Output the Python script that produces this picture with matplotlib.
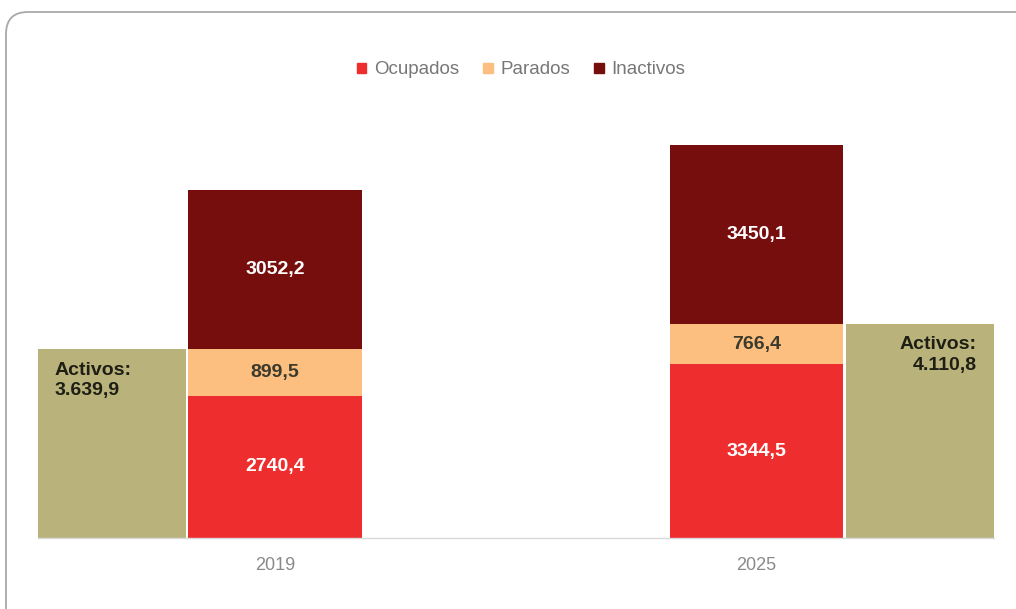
import matplotlib.pyplot as plt
from matplotlib.patches import Patch, FancyBboxPatch
from matplotlib.transforms import IdentityTransform
import numpy as np

plt.rcParams['font.family'] = ['Liberation Sans', 'DejaVu Sans']

years = ['2019', '2025']
ocupados = [2740.4, 3344.5]
parados = [899.5, 766.4]
inactivos = [3052.2, 3450.1]
activos = [3639.9, 4110.8]

cOcup = '#ee2e2e'
cPar = '#fdbf80'
cInac = '#760e0e'
cAct = '#b9b37b'

def comma(v):
    return ('%.1f' % v).replace('.', ',')

def miles(v):
    s = '{:,.1f}'.format(v)
    return s.replace(',', 'X').replace('.', ',').replace('X', '.')

fig = plt.figure(figsize=(10.16, 6.09), dpi=100)
ax = fig.add_axes([38/1016, 71/609, 956/1016, 415.6/609])

x = np.arange(len(years))
width = 0.361
actWidth = 0.307
actOffset = [-0.339, 0.339]

ax.bar(x, ocupados, width, color=cOcup)
ax.bar(x, parados, width, bottom=ocupados, color=cPar)
bottoms = [o + p for o, p in zip(ocupados, parados)]
ax.bar(x, inactivos, width, bottom=bottoms, color=cInac)

for i in range(len(years)):
    ax.bar(x[i] + actOffset[i], activos[i], actWidth, color=cAct)

    ax.text(x[i], ocupados[i] / 2, comma(ocupados[i]), ha='center', va='center',
            color='white', fontsize=14, fontweight='bold')
    ax.text(x[i], ocupados[i] + parados[i] / 2, comma(parados[i]), ha='center', va='center',
            color='#3b3a2c', fontsize=14, fontweight='bold')
    ax.text(x[i], bottoms[i] + inactivos[i] / 2, comma(inactivos[i]), ha='center', va='center',
            color='white', fontsize=14, fontweight='bold')

# etiquetas de activos, a la izquierda en 2019 y a la derecha en 2025
ax.text(x[0] + actOffset[0] - actWidth / 2 + 0.035, activos[0] - 260,
        'Activos:\n' + miles(activos[0]), ha='left', va='top', linespacing=1.2,
        color='#1e1e14', fontsize=14, fontweight='bold')
ax.text(x[1] + actOffset[1] + actWidth / 2 - 0.035, activos[1] - 230,
        'Activos:\n' + miles(activos[1]), ha='right', va='top', multialignment='right',
        linespacing=1.25, color='#1e1e14', fontsize=14, fontweight='bold')

ax.set_xlim(-0.492, 1.493)
ax.set_ylim(0, 8000)
ax.set_xticks(x)
ax.set_xticklabels(years, color='#8a8a8a', fontsize=13)
ax.tick_params(axis='x', length=0, pad=14)
ax.set_yticks([])
for side in ['top', 'right', 'left']:
    ax.spines[side].set_visible(False)
ax.spines['bottom'].set_color('#d9d9d9')
ax.spines['bottom'].set_linewidth(1.0)

handles = [Patch(color=cOcup, label='Ocupados'),
           Patch(color=cPar, label='Parados'),
           Patch(color=cInac, label='Inactivos')]
leg = fig.legend(handles=handles, loc='center', bbox_to_anchor=(521/1016, 1 - 70/609),
                 ncol=3, frameon=False, handlelength=0.5, handleheight=0.5,
                 handletextpad=0.4, columnspacing=1.3, fontsize=13.5)
for t in leg.get_texts():
    t.set_color('#777777')

# marco redondeado del gráfico
box = FancyBboxPatch((6, -20), 1040, 609 - 12 + 20, boxstyle='round,pad=0,rounding_size=22',
                     transform=IdentityTransform(), facecolor='none',
                     edgecolor='#a8a8a8', linewidth=1.3)
fig.patches.append(box)

fig.savefig('out.png', dpi=100)
